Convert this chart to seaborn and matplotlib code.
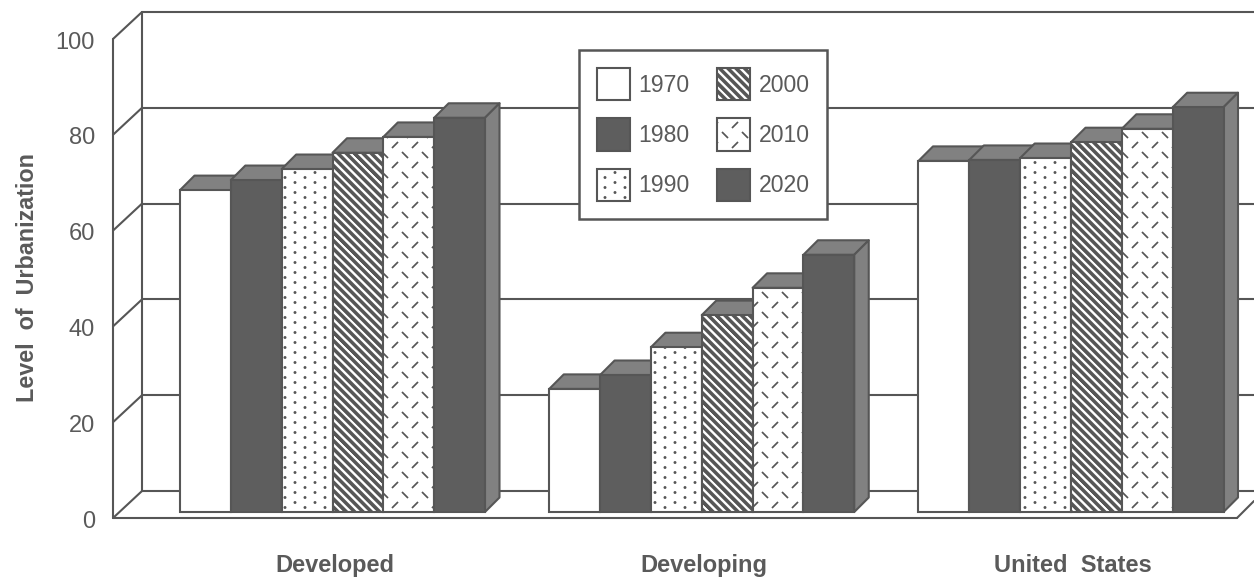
import numpy as np
import pandas as pd
import matplotlib
matplotlib.use("Agg")
import matplotlib.pyplot as plt
import matplotlib.hatch as mhatch
from matplotlib.path import Path
from matplotlib.patches import Polygon
from matplotlib.transforms import ScaledTranslation
import seaborn as sns

# Percentage of population living in urban areas
regions = ["Developed", "Developing", "United  States"]
years = ["1970", "1980", "1990", "2000", "2010", "2020"]
level_1970 = [67.2, 25.7, 73.3]
level_1980 = [69.3, 28.6, 73.5]
level_1990 = [71.6, 34.4, 73.9]
level_2000 = [75.0, 41.1, 77.2]
level_2010 = [78.3, 46.8, 80.0]
level_2020 = [82.3, 53.7, 84.5]
y_ticks = [0, 20, 40, 60, 80, 100]

INK = "#565656"
DARK = "#5e5e5e"
SHADE = "#818181"
TEXT = "#5a5a5a"


class TiledHatch(mhatch.HatchPatternBase):
    """Fill pattern defined by one marker character and a fixed set of path pieces."""
    marker = ""

    def __init__(self, hatch, density):
        self.active = self.marker in hatch
        self.pieces = self.build() if self.active else []
        self.num_vertices = sum(len(v) for v, _ in self.pieces)

    def set_vertices_and_codes(self, vertices, codes):
        i = 0
        for v, c in self.pieces:
            vertices[i:i + len(v)] = v
            codes[i:i + len(v)] = c
            i += len(v)


class DotHatch(TiledHatch):
    marker = "O"

    def build(self):
        poly = Path.unit_regular_polygon(8)
        out = []
        for col in range(10):
            for row in range(10):
                centre = np.array([(col + 0.5) / 10, (row + 0.25 + 0.5 * (col % 2)) / 10])
                out.append((poly.vertices * 0.006 + centre, poly.codes))
        return out


class DashHatch(TiledHatch):
    marker = "*"

    def build(self):
        d = 0.024
        out = []
        seg = [Path.MOVETO, Path.LINETO]
        for col in range(5):
            for row in range(5):
                a = np.array([(col + 0.25) / 5, (row + 0.25) / 5])
                b = a + 0.1
                out.append((np.array([a + [-d, d], a + [d, -d]]), seg))
                out.append((np.array([b + [-d, -d], b + [d, d]]), seg))
        return out


class StripeHatch(TiledHatch):
    marker = "\\"

    def build(self):
        w = 0.025
        seg = [Path.MOVETO, Path.LINETO, Path.LINETO, Path.LINETO, Path.CLOSEPOLY]
        out = []
        for c in np.arange(-12, 37) / 12:
            out.append((np.array([(-1, c + 1), (2, c - 2), (2, c - 2 + w),
                                  (-1, c + 1 + w), (-1, c + 1)]), seg))
        return out


mhatch._hatch_types[:] = [t for t in mhatch._hatch_types
                          if t.__name__ not in ("LargeCircles", "Stars", "NorthWestHatch")]
mhatch._hatch_types.extend([DotHatch, DashHatch, StripeHatch])

sns.set_style("white")
plt.rcParams["font.family"] = ["Liberation Sans", "DejaVu Sans"]
plt.rcParams["hatch.linewidth"] = 1.25

W, H = 1254, 577
AX_LEFT, AX_BOTTOM = 100, 530
BASE_PY, UNIT_PY = 512, 4.79
GROUP_PX, GROUP_PY = 369.25, 332.5


def X(px):
    return (px - GROUP_PY) / GROUP_PX


def Y(py):
    return (BASE_PY - py) / UNIT_PY


fig = plt.figure(figsize=(W / 100, H / 100), dpi=100)
ax = fig.add_axes([AX_LEFT / W, (H - AX_BOTTOM) / H, (W - AX_LEFT) / W, AX_BOTTOM / H])

table = pd.DataFrame({
    "region": regions * 6,
    "year": np.repeat(years, 3),
    "level": level_1970 + level_1980 + level_1990 + level_2000 + level_2010 + level_2020,
})
fills = dict(zip(years, ["white", DARK, "white", "white", "white", DARK]))
sns.barplot(data=table, x="region", y="level", hue="year", order=regions, hue_order=years,
            palette=fills, saturation=1, width=0.826, gap=0, legend=False, ax=ax)

ax.set_xlim(X(AX_LEFT), X(W))
ax.set_ylim(Y(AX_BOTTOM), Y(0))
sns.despine(ax=ax, left=True, bottom=True, right=True, top=True)

# Back wall, side wall and floor of the box
FRONT_L, BACK_L = 113, 142
FRONT_FLOOR, BACK_FLOOR = 518, 491
line_style = dict(color=INK, lw=1.5, zorder=1, clip_on=False, solid_capstyle="round")
for v in y_ticks:
    back = BACK_FLOOR - v * UNIT_PY
    front = FRONT_FLOOR - v * UNIT_PY
    ax.plot([X(BACK_L), X(W)], [Y(back), Y(back)], **line_style)
    ax.plot([X(FRONT_L), X(BACK_L)], [Y(front), Y(back)], **line_style)
top = BACK_FLOOR - 100 * UNIT_PY
ax.plot([X(BACK_L)] * 2, [Y(BACK_FLOOR), Y(top)], **line_style)
ax.plot([X(FRONT_L)] * 2, [Y(FRONT_FLOOR), Y(FRONT_FLOOR - 100 * UNIT_PY)], **line_style)
ax.plot([X(FRONT_L), X(1237)], [Y(FRONT_FLOOR)] * 2, **line_style)
ax.plot([X(1237), X(W)], [Y(FRONT_FLOOR), Y(501)], **line_style)

# Patterned front faces plus the extruded top and side of each bar
patterns = ["", "", "O", "\\", "*", ""]
DX, DY = 14.5 / GROUP_PX, 14.5 / UNIT_PY
order = 3.0
for group in range(len(regions)):
    for container, pattern in zip(ax.containers, patterns):
        bar = container[group]
        bar.set_hatch(pattern)
        bar.set_edgecolor(INK)
        bar.set_linewidth(1.5)
        x0, x1 = bar.get_x(), bar.get_x() + bar.get_width()
        v = bar.get_height()
        ax.add_patch(Polygon([(x0, v), (x0 + DX, v + DY), (x1 + DX, v + DY), (x1, v)],
                             facecolor=SHADE, edgecolor=INK, lw=1.5, zorder=order,
                             joinstyle="round"))
        ax.add_patch(Polygon([(x1, 0), (x1 + DX, DY), (x1 + DX, v + DY), (x1, v)],
                             facecolor=SHADE, edgecolor=INK, lw=1.5, zorder=order,
                             joinstyle="round"))
        bar.set_zorder(order + 0.5)
        order += 1

# Axis text
ax.set_yticks(y_ticks)
ax.tick_params(axis="y", length=0, pad=3.6, labelsize=17, labelcolor=TEXT)
ax.tick_params(axis="x", length=0, pad=17, labelsize=17, labelcolor=TEXT)
shift = ScaledTranslation(0, -7 / 100, fig.dpi_scale_trans)
for label in ax.get_yticklabels():
    label.set_transform(label.get_transform() + shift)
x_shift = ScaledTranslation(2 / 100, 0, fig.dpi_scale_trans)
for label in ax.get_xticklabels():
    label.set_fontweight("bold")
    label.set_transform(label.get_transform() + x_shift)
ax.set_xlabel("")
ax.set_ylabel("Level  of  Urbanization", fontsize=16.8, fontweight="bold", color=TEXT)
ax.yaxis.set_label_coords((39 - AX_LEFT) / (W - AX_LEFT), (AX_BOTTOM - 278) / AX_BOTTOM)

# Year key
legend = ax.legend(handles=[c[0] for c in ax.containers], labels=years, ncol=2,
                   loc="upper left",
                   bbox_to_anchor=((579 - AX_LEFT) / (W - AX_LEFT), (AX_BOTTOM - 50) / AX_BOTTOM),
                   borderaxespad=0, fontsize=16.6, labelcolor=TEXT, fancybox=False,
                   framealpha=1, edgecolor=INK, handlelength=1.43, handleheight=1.78,
                   handletextpad=0.36, columnspacing=1.2, labelspacing=0.78, borderpad=0.78)
legend.get_frame().set_linewidth(1.8)
legend.set_zorder(100)

fig.savefig("out.png", dpi=100, facecolor="white")
